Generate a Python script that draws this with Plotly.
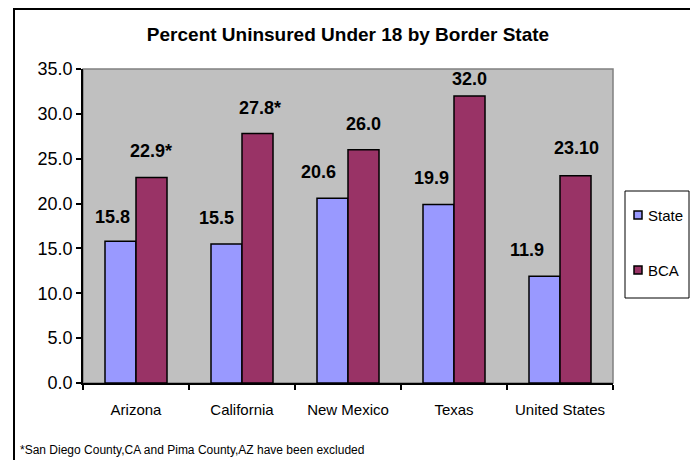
import plotly.graph_objects as go

# dados
categorias = ['Arizona', 'California', 'New Mexico', 'Texas', 'United States']
state = [15.8, 15.5, 20.6, 19.9, 11.9]
bca = [22.9, 27.8, 26.0, 32.0, 23.1]
rotulos_state = ['15.8', '15.5', '20.6', '19.9', '11.9']
rotulos_bca = ['22.9*', '27.8*', '26.0', '32.0', '23.10']
y_ticks = [0, 5, 10, 15, 20, 25, 30, 35]

FONTE = 'Liberation Sans, Arial, sans-serif'
COR_STATE = '#9999FF'
COR_BCA = '#993366'

# a pagina html tem margem de 8px no body
OFF = 8
W, H = 698 - OFF, 460 - OFF
L, T, PW, PH = 83 - OFF, 69 - OFF, 530, 314


def px(x):
    """coordenada x (pixels da imagem) -> paper"""
    return (x - OFF - L) / PW


def py(y):
    """coordenada y (pixels da imagem) -> paper"""
    return (T + PH - (y - OFF)) / PH


# deslocamentos (px) dos rotulos, como no original do Excel
desloc_x_state = [-24, -26, -30, -23, -33]
desloc_x_bca = [15, 18, 15, 15, 16]
desloc_y_state = [24, 26, 26, 26, 26]
desloc_y_bca = [27, 26, 26, 17, 28]

fig = go.Figure()

fig.add_trace(go.Bar(
    x=categorias, y=state, name='State', showlegend=False,
    marker=dict(color=COR_STATE, line=dict(color='black', width=1.5)),
))
fig.add_trace(go.Bar(
    x=categorias, y=bca, name='BCA', showlegend=False,
    marker=dict(color=COR_BCA, line=dict(color='black', width=1.5)),
))

anotacoes = []
for i, cat in enumerate(categorias):
    anotacoes.append(dict(x=cat, y=state[i], text='<b>' + rotulos_state[i] + '</b>', showarrow=False,
                          xshift=desloc_x_state[i], yshift=desloc_y_state[i],
                          font=dict(size=18, family=FONTE, color='black')))
    anotacoes.append(dict(x=cat, y=bca[i], text='<b>' + rotulos_bca[i] + '</b>', showarrow=False,
                          xshift=desloc_x_bca[i], yshift=desloc_y_bca[i],
                          font=dict(size=18, family=FONTE, color='black')))

anotacoes.append(dict(xref='paper', yref='paper', x=px(18), y=py(450),
                      xanchor='left', yanchor='middle', showarrow=False,
                      text='*San Diego County,CA and Pima County,AZ have been excluded',
                      font=dict(size=12, family=FONTE, color='black')))

# legenda feita a mao (caixa estreita como no Excel)
legenda = [('State', COR_STATE, 215), ('BCA', COR_BCA, 270)]
formas = [
    dict(type='rect', xref='paper', yref='paper', x0=0, x1=1, y0=0, y1=1,
         line=dict(color='#808080', width=1.5), layer='below'),
    dict(type='rect', xref='paper', yref='paper',
         x0=px(14), x1=px(692), y0=py(480), y1=py(OFF + 1),
         line=dict(color='black', width=2)),
    dict(type='rect', xref='paper', yref='paper',
         x0=px(625), x1=px(689), y0=py(298), y1=py(191),
         line=dict(color='black', width=1), fillcolor='white'),
]
for nome, cor, yc in legenda:
    formas.append(dict(type='rect', xref='paper', yref='paper',
                       x0=px(634), x1=px(642), y0=py(yc + 4), y1=py(yc - 4),
                       line=dict(color='black', width=1.5), fillcolor=cor))
    anotacoes.append(dict(xref='paper', yref='paper', x=px(646), y=py(yc),
                          xanchor='left', yanchor='middle', showarrow=False,
                          text=nome, font=dict(size=15, family=FONTE, color='black')))

fig.update_layout(
    width=W, height=H,
    margin=dict(l=L, r=W - L - PW, t=T, b=H - T - PH, autoexpand=False),
    paper_bgcolor='white',
    plot_bgcolor='#C0C0C0',
    barmode='group', bargap=0.415, bargroupgap=0,
    showlegend=False,
    font=dict(family=FONTE, color='black'),
    title=dict(text='<b>Percent Uninsured Under 18 by Border State</b>',
               x=0.5, xref='paper', xanchor='center',
               y=1 - (34 - OFF) / H, yanchor='middle',
               font=dict(size=19, family=FONTE, color='black')),
    xaxis=dict(showline=True, linecolor='black', linewidth=1.5,
               ticks='outside', ticklen=5, tickcolor='black', tickwidth=1.5,
               tickson='boundaries', showgrid=False, ticklabelstandoff=12,
               tickfont=dict(size=15, family=FONTE, color='black')),
    yaxis=dict(range=[0, 35], tickvals=y_ticks, tickformat='.1f',
               showline=True, linecolor='black', linewidth=1.5,
               ticks='outside', ticklen=5, tickcolor='black', tickwidth=1.5,
               showgrid=False, zeroline=False,
               tickfont=dict(size=18, family=FONTE, color='black')),
    annotations=anotacoes,
    shapes=formas,
)

fig.write_html('out.html')
